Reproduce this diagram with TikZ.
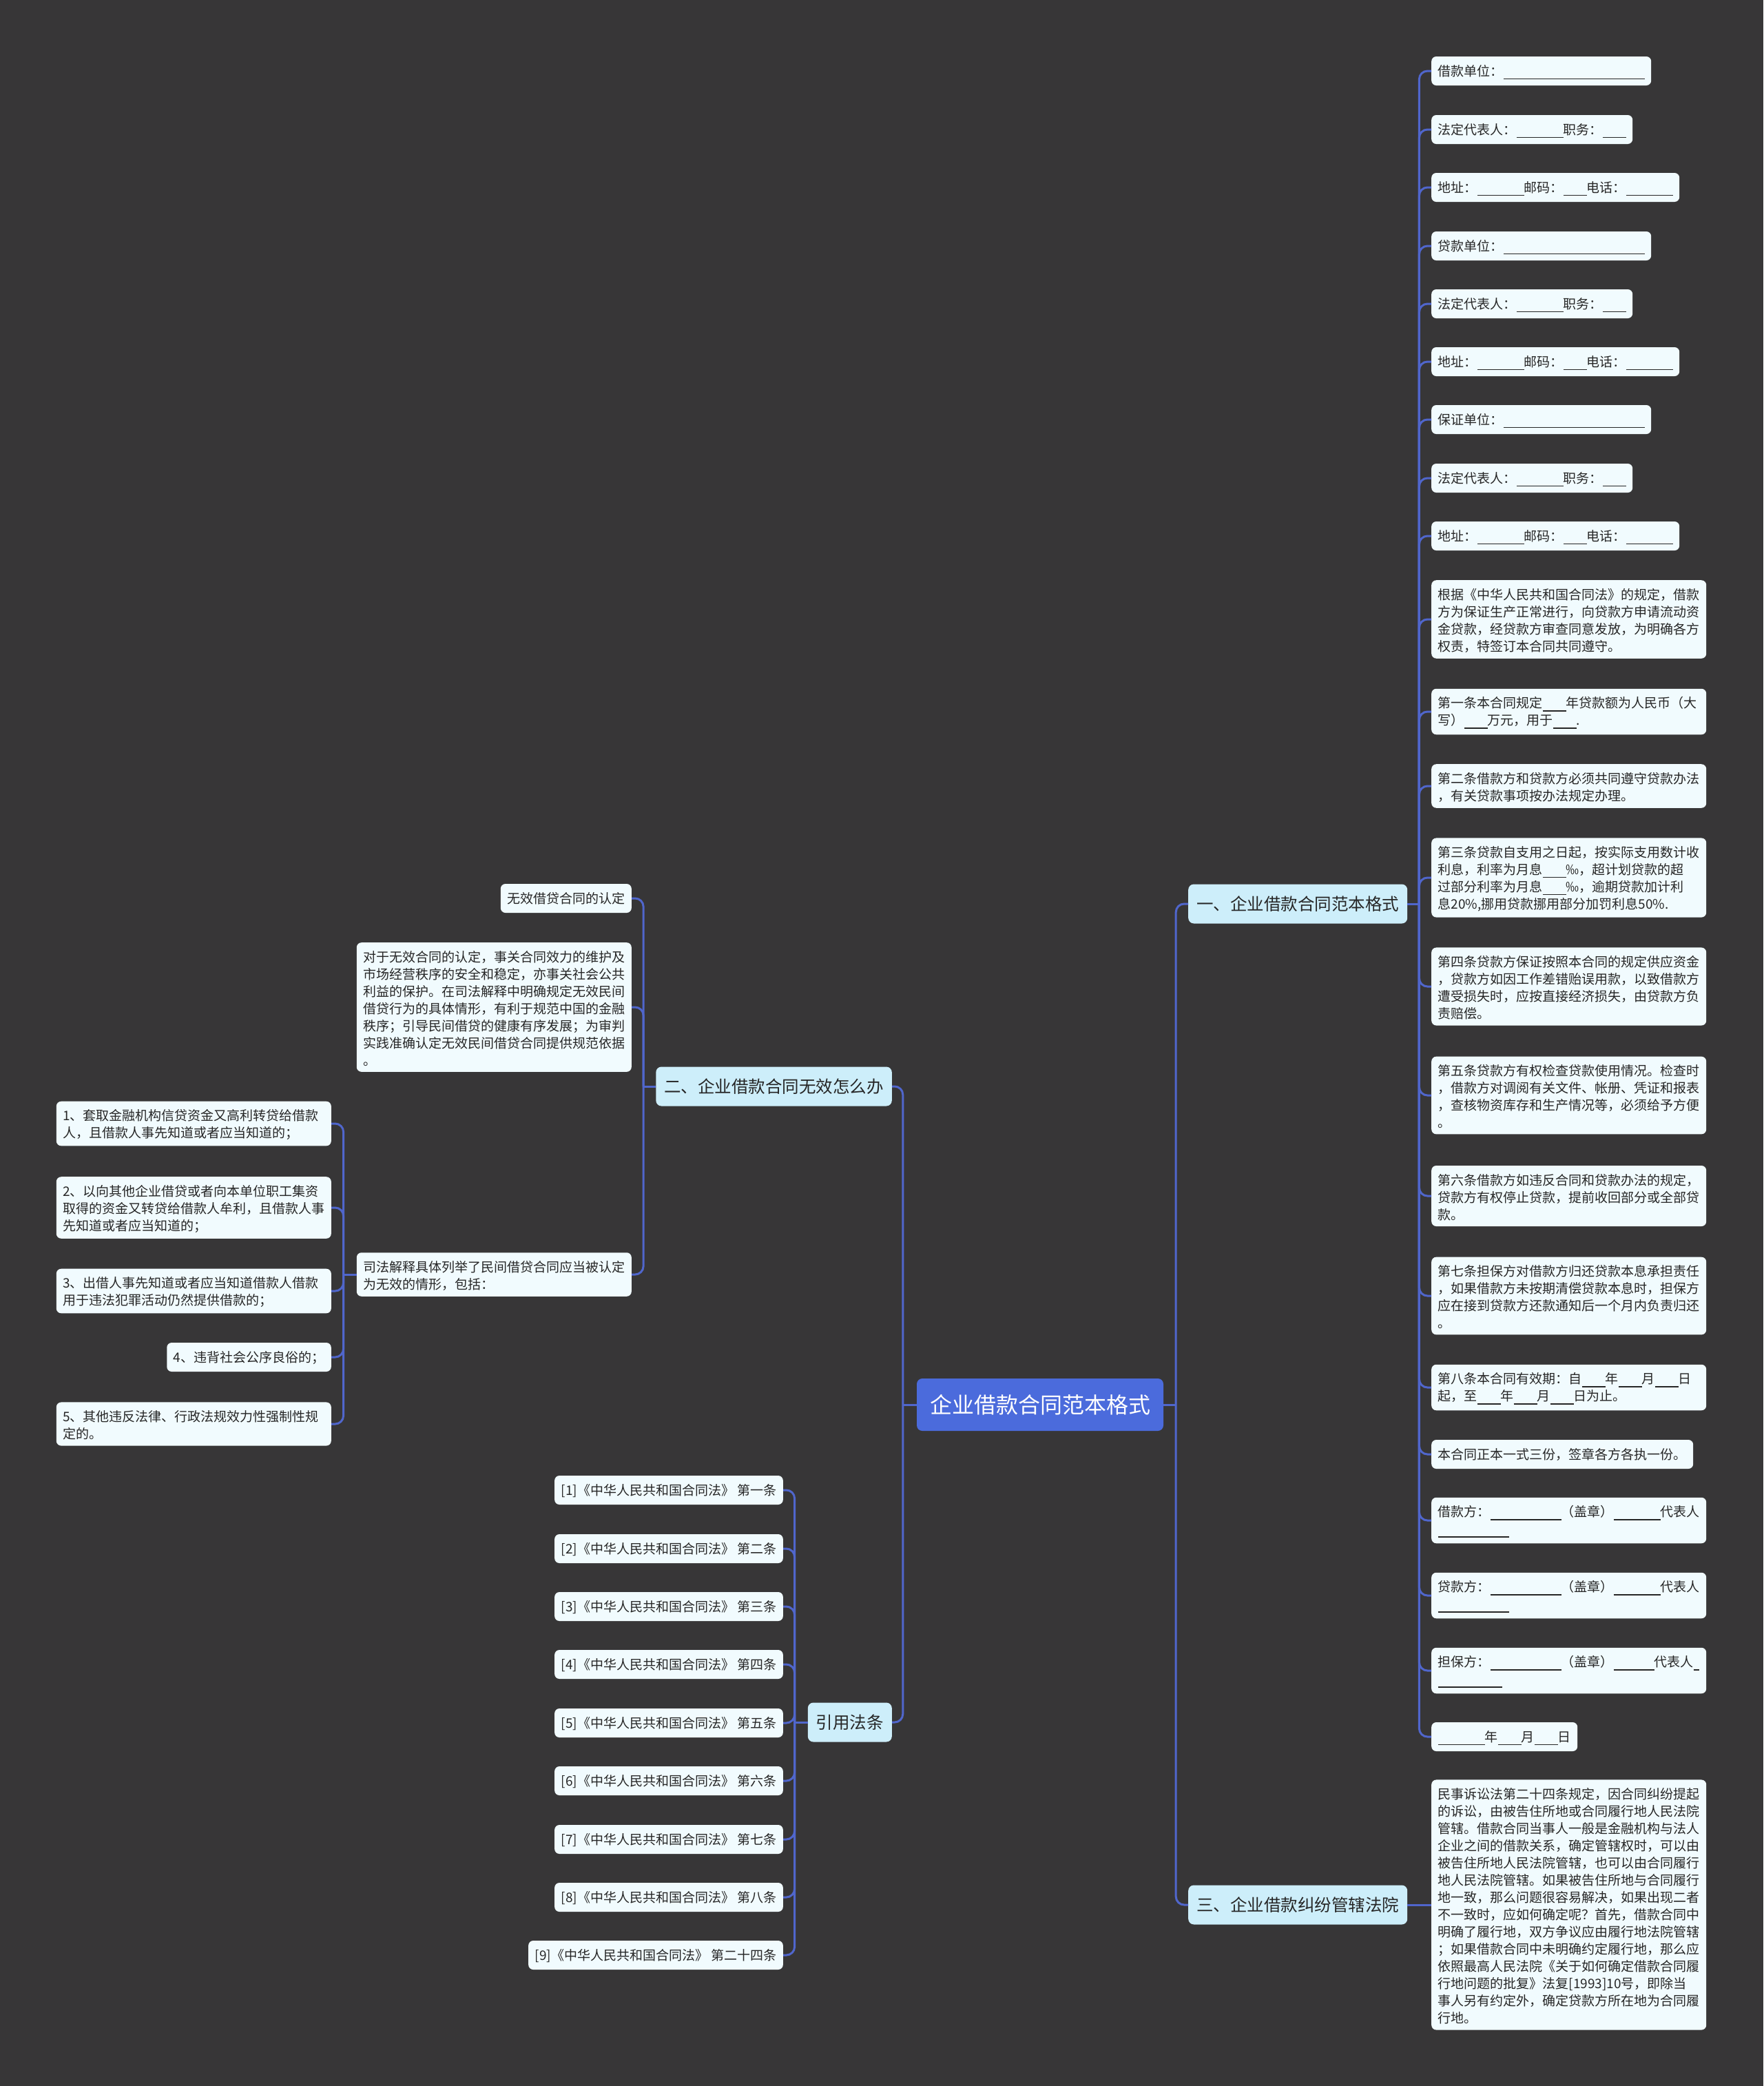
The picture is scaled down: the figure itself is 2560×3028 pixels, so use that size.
\documentclass[tikz,border=0pt]{standalone}
\usepackage{fontspec}
\setmainfont{Noto Sans CJK SC}
\definecolor{bgdark}{HTML}{373637}
\definecolor{rootblue}{HTML}{4B6BDC}
\definecolor{branchblue}{HTML}{CDEEFA}
\definecolor{leaffill}{HTML}{F1FBFE}
\definecolor{linkblue}{HTML}{5066CC}
\definecolor{textdark}{HTML}{262626}
\newcommand{\fillbar}[1]{\rule[-5pt]{#1pt}{1.3pt}}
\newcommand{\lstrut}{\rule[-5.5pt]{0pt}{25pt}}
\begin{document}
\begin{tikzpicture}[
    x=1pt, y=-1pt,
    topic/.style={rectangle, rounded corners=8pt, fill=rootblue, text=white, font=\fontsize{32}{38}\selectfont, inner xsep=19pt, inner ysep=0pt, minimum height=76pt},
    branch/.style={rectangle, rounded corners=8pt, fill=branchblue, text=textdark, font=\fontsize{24.5}{30}\selectfont, inner xsep=12pt, inner ysep=0pt, minimum height=57pt},
    leaf/.style={rectangle, rounded corners=7pt, fill=leaffill, text=textdark, font=\fontsize{19}{25}\selectfont, inner xsep=9.5pt, inner ysep=8.5pt, execute at begin node=\lstrut},
    para/.style={leaf, text width=380pt, align=left},
    conn/.style={draw=linkblue, line width=3pt, rounded corners=12pt},
]
    \useasboundingbox (0,0) rectangle (2560,3028);
    \fill[bgdark] (0,0) rectangle (2560,3028);

    % Center
    \node[topic] (root) at (1510,2039) {企业借款合同范本格式};

    % Main branches
    \node[branch, anchor=west] (b1) at (1725,1312) {一、企业借款合同范本格式};
    \node[branch, anchor=west] (b3) at (1725,2765) {三、企业借款纠纷管辖法院};
    \node[branch, anchor=east] (b2) at (1295,1577) {二、企业借款合同无效怎么办};
    \node[branch, anchor=east] (law) at (1295,2500) {引用法条};

    % Contract template
    \node[leaf, anchor=west] (r1) at (2078,103) {借款单位：\fillbar{205}};
    \node[leaf, anchor=west] (r2) at (2078,188) {法定代表人：\fillbar{68}职务：\fillbar{34}};
    \node[leaf, anchor=west] (r3) at (2078,272) {地址：\fillbar{68}邮码：\fillbar{34}电话：\fillbar{68}};
    \node[leaf, anchor=west] (r4) at (2078,357) {贷款单位：\fillbar{205}};
    \node[leaf, anchor=west] (r5) at (2078,441) {法定代表人：\fillbar{68}职务：\fillbar{34}};
    \node[leaf, anchor=west] (r6) at (2078,525) {地址：\fillbar{68}邮码：\fillbar{34}电话：\fillbar{68}};
    \node[leaf, anchor=west] (r7) at (2078,609) {保证单位：\fillbar{205}};
    \node[leaf, anchor=west] (r8) at (2078,694) {法定代表人：\fillbar{68}职务：\fillbar{34}};
    \node[leaf, anchor=west] (r9) at (2078,778) {地址：\fillbar{68}邮码：\fillbar{34}电话：\fillbar{68}};
    \node[para, anchor=west] (r10) at (2078,899) {根据《中华人民共和国合同法》的规定，借款\\
        方为保证生产正常进行，向贷款方申请流动资\\
        金贷款，经贷款方审查同意发放，为明确各方\\
        权责，特签订本合同共同遵守。};
    \node[para, anchor=west] (r11) at (2078,1033) {第一条本合同规定\fillbar{34}年贷款额为人民币（大\\
        写）\fillbar{34}万元，用于\fillbar{34}.};
    \node[para, anchor=west] (r12) at (2078,1141) {第二条借款方和贷款方必须共同遵守贷款办法\\
        ，有关贷款事项按办法规定办理。};
    \node[para, anchor=west] (r13) at (2078,1274) {第三条贷款自支用之日起，按实际支用数计收\\
        利息，利率为月息\fillbar{34}‰，超计划贷款的超\\
        过部分利率为月息\fillbar{34}‰，逾期贷款加计利\\
        息20\%,挪用贷款挪用部分加罚利息50\%.};
    \node[para, anchor=west] (r14) at (2078,1432) {第四条贷款方保证按照本合同的规定供应资金\\
        ，贷款方如因工作差错贻误用款，以致借款方\\
        遭受损失时，应按直接经济损失，由贷款方负\\
        责赔偿。};
    \node[para, anchor=west] (r15) at (2078,1590) {第五条贷款方有权检查贷款使用情况。检查时\\
        ，借款方对调阅有关文件、帐册、凭证和报表\\
        ，查核物资库存和生产情况等，必须给予方便\\
        。};
    \node[para, anchor=west] (r16) at (2078,1736) {第六条借款方如违反合同和贷款办法的规定，\\
        贷款方有权停止贷款，提前收回部分或全部贷\\
        款。};
    \node[para, anchor=west] (r17) at (2078,1881) {第七条担保方对借款方归还贷款本息承担责任\\
        ，如果借款方未按期清偿贷款本息时，担保方\\
        应在接到贷款方还款通知后一个月内负责归还\\
        。};
    \node[para, anchor=west] (r18) at (2078,2014) {第八条本合同有效期：自\fillbar{34}年\fillbar{34}月\fillbar{34}日\\
        起，至\fillbar{34}年\fillbar{34}月\fillbar{34}日为止。};
    \node[leaf, anchor=west] (r19) at (2078,2111) {本合同正本一式三份，签章各方各执一份。};
    \node[para, anchor=west] (r20) at (2078,2207) {借款方：\fillbar{103}（盖章）\fillbar{68}代表人\\
        \fillbar{103}};
    \node[para, anchor=west] (r21) at (2078,2316) {贷款方：\fillbar{103}（盖章）\fillbar{68}代表人\\
        \fillbar{103}};
    \node[para, anchor=west] (r22) at (2078,2425) {担保方：\fillbar{103}（盖章）\fillbar{59}代表人\fillbar{8}\\
        \fillbar{93}};
    \node[leaf, anchor=west] (r23) at (2078,2521) {\fillbar{68}年\fillbar{34}月\fillbar{34}日};

    % Jurisdiction
    \node[para, anchor=west] (m1) at (2078,2765) {民事诉讼法第二十四条规定，因合同纠纷提起\\
        的诉讼，由被告住所地或合同履行地人民法院\\
        管辖。借款合同当事人一般是金融机构与法人\\
        企业之间的借款关系，确定管辖权时，可以由\\
        被告住所地人民法院管辖，也可以由合同履行\\
        地人民法院管辖。如果被告住所地与合同履行\\
        地一致，那么问题很容易解决，如果出现二者\\
        不一致时，应如何确定呢？首先，借款合同中\\
        明确了履行地，双方争议应由履行地法院管辖\\
        ；如果借款合同中未明确约定履行地，那么应\\
        依照最高人民法院《关于如何确定借款合同履\\
        行地问题的批复》法复[1993]10号，即除当\\
        事人另有约定外，确定贷款方所在地为合同履\\
        行地。};

    % Invalid contracts
    \node[leaf, anchor=east] (n1) at (917,1304) {无效借贷合同的认定};
    \node[para, anchor=east] (n2) at (917,1462) {对于无效合同的认定，事关合同效力的维护及\\
        市场经营秩序的安全和稳定，亦事关社会公共\\
        利益的保护。在司法解释中明确规定无效民间\\
        借贷行为的具体情形，有利于规范中国的金融\\
        秩序；引导民间借贷的健康有序发展；为审判\\
        实践准确认定无效民间借贷合同提供规范依据\\
        。};
    \node[para, anchor=east] (n3) at (917,1850) {司法解释具体列举了民间借贷合同应当被认定\\
        为无效的情形，包括：};
    \node[para, anchor=east] (q1) at (481,1631) {1、套取金融机构信贷资金又高利转贷给借款\\
        人，且借款人事先知道或者应当知道的；};
    \node[para, anchor=east] (q2) at (481,1753) {2、以向其他企业借贷或者向本单位职工集资\\
        取得的资金又转贷给借款人牟利，且借款人事\\
        先知道或者应当知道的；};
    \node[para, anchor=east] (q3) at (481,1874) {3、出借人事先知道或者应当知道借款人借款\\
        用于违法犯罪活动仍然提供借款的；};
    \node[leaf, anchor=east] (q4) at (481,1970) {4、违背社会公序良俗的；};
    \node[para, anchor=east] (q5) at (481,2067) {5、其他违反法律、行政法规效力性强制性规\\
        定的。};

    % Cited articles
    \node[leaf, anchor=east] (c1) at (1137,2163) {[1]《中华人民共和国合同法》 第一条};
    \node[leaf, anchor=east] (c2) at (1137,2248) {[2]《中华人民共和国合同法》 第二条};
    \node[leaf, anchor=east] (c3) at (1137,2332) {[3]《中华人民共和国合同法》 第三条};
    \node[leaf, anchor=east] (c4) at (1137,2416) {[4]《中华人民共和国合同法》 第四条};
    \node[leaf, anchor=east] (c5) at (1137,2501) {[5]《中华人民共和国合同法》 第五条};
    \node[leaf, anchor=east] (c6) at (1137,2585) {[6]《中华人民共和国合同法》 第六条};
    \node[leaf, anchor=east] (c7) at (1137,2670) {[7]《中华人民共和国合同法》 第七条};
    \node[leaf, anchor=east] (c8) at (1137,2754) {[8]《中华人民共和国合同法》 第八条};
    \node[leaf, anchor=east] (c9) at (1137,2838) {[9]《中华人民共和国合同法》 第二十四条};

    % Relationships
    \draw[conn] (root.east) -- ++(18,0);
    \draw[conn] (root.east) ++(18,0) |- (b1.west);
    \draw[conn] (root.east) ++(18,0) |- (b3.west);
    \draw[conn] (root.west) -- ++(-20,0);
    \draw[conn] (root.west) ++(-20,0) |- (b2.east);
    \draw[conn] (root.west) ++(-20,0) |- (law.east);

    \draw[conn] (b1.east) -- ++(17,0);
    \draw[conn] (b1.east) ++(17,0) |- (r1.west);
    \draw[conn] (b1.east) ++(17,0) |- (r2.west);
    \draw[conn] (b1.east) ++(17,0) |- (r3.west);
    \draw[conn] (b1.east) ++(17,0) |- (r4.west);
    \draw[conn] (b1.east) ++(17,0) |- (r5.west);
    \draw[conn] (b1.east) ++(17,0) |- (r6.west);
    \draw[conn] (b1.east) ++(17,0) |- (r7.west);
    \draw[conn] (b1.east) ++(17,0) |- (r8.west);
    \draw[conn] (b1.east) ++(17,0) |- (r9.west);
    \draw[conn] (b1.east) ++(17,0) |- (r10.west);
    \draw[conn] (b1.east) ++(17,0) |- (r11.west);
    \draw[conn] (b1.east) ++(17,0) |- (r12.west);
    \draw[conn] (b1.east) ++(17,0) |- (r13.west);
    \draw[conn] (b1.east) ++(17,0) |- (r14.west);
    \draw[conn] (b1.east) ++(17,0) |- (r15.west);
    \draw[conn] (b1.east) ++(17,0) |- (r16.west);
    \draw[conn] (b1.east) ++(17,0) |- (r17.west);
    \draw[conn] (b1.east) ++(17,0) |- (r18.west);
    \draw[conn] (b1.east) ++(17,0) |- (r19.west);
    \draw[conn] (b1.east) ++(17,0) |- (r20.west);
    \draw[conn] (b1.east) ++(17,0) |- (r21.west);
    \draw[conn] (b1.east) ++(17,0) |- (r22.west);
    \draw[conn] (b1.east) ++(17,0) |- (r23.west);
    \draw[conn] (b3.east) -- (m1.west);

    \draw[conn] (b2.west) -- ++(-18,0);
    \draw[conn] (b2.west) ++(-18,0) |- (n1.east);
    \draw[conn] (b2.west) ++(-18,0) |- (n2.east);
    \draw[conn] (b2.west) ++(-18,0) |- (n3.east);
    \draw[conn] (n3.west) -- ++(-19,0);
    \draw[conn] (n3.west) ++(-19,0) |- (q1.east);
    \draw[conn] (n3.west) ++(-19,0) |- (q2.east);
    \draw[conn] (n3.west) ++(-19,0) |- (q3.east);
    \draw[conn] (n3.west) ++(-19,0) |- (q4.east);
    \draw[conn] (n3.west) ++(-19,0) |- (q5.east);

    \draw[conn] (law.west) -- ++(-19,0);
    \draw[conn] (law.west) ++(-19,0) |- (c1.east);
    \draw[conn] (law.west) ++(-19,0) |- (c2.east);
    \draw[conn] (law.west) ++(-19,0) |- (c3.east);
    \draw[conn] (law.west) ++(-19,0) |- (c4.east);
    \draw[conn] (law.west) ++(-19,0) |- (c5.east);
    \draw[conn] (law.west) ++(-19,0) |- (c6.east);
    \draw[conn] (law.west) ++(-19,0) |- (c7.east);
    \draw[conn] (law.west) ++(-19,0) |- (c8.east);
    \draw[conn] (law.west) ++(-19,0) |- (c9.east);
\end{tikzpicture}
\end{document}
